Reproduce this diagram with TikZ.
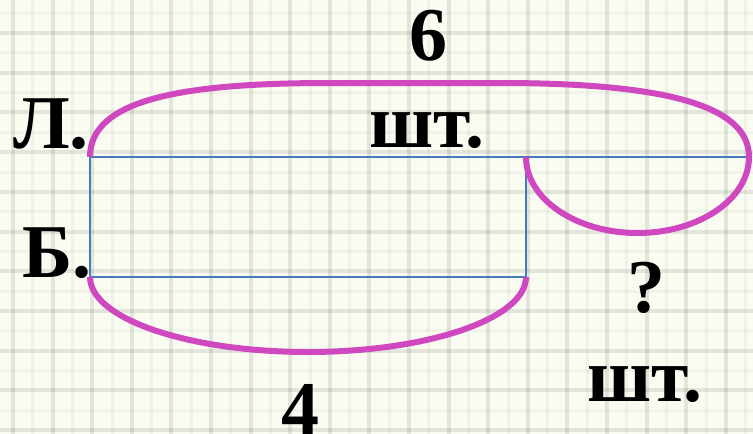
\documentclass[tikz,border=0pt]{standalone}
\usepackage{fontspec}
\setmainfont{Liberation Serif}
\definecolor{paper}{RGB}{250,252,242}
\definecolor{gridc}{RGB}{120,125,110}
\definecolor{mag}{RGB}{208,72,192}
\definecolor{rectblue}{RGB}{70,124,190}
\begin{document}
\begin{tikzpicture}[x=1pt,y=-1pt,
  lbl/.style={font=\fontsize{76}{80}\selectfont\bfseries, anchor=base, inner sep=0pt},
  bar/.style={draw=rectblue, line width=2pt},
  arcline/.style={draw=mag, line width=6pt}]
\useasboundingbox (0,0) rectangle (753,434);
\fill[paper] (0,0) rectangle (753,434);
\begin{scope}
\clip (0,0) rectangle (753,434);
% minor grid
\foreach \i in {0,...,19} {
  \draw[gridc, line width=3pt, opacity=0.07] ({-6.8+39.6*\i},0) -- ({-6.8+39.6*\i},434);
}
\foreach \j in {0,...,11} {
  \draw[gridc, line width=3pt, opacity=0.07] (0,{13.2+39.7*\j}) -- (753,{13.2+39.7*\j});
}
% major grid
\foreach \i in {0,...,19} {
  \draw[gridc, line width=4pt, opacity=0.18] ({13+39.6*\i},0) -- ({13+39.6*\i},434);
}
\foreach \j in {0,...,11} {
  \draw[gridc, line width=4pt, opacity=0.18] (0,{33+39.7*\j}) -- (753,{33+39.7*\j});
}
\end{scope}
% coordinates
\coordinate (tl) at (90,157);
\coordinate (tr) at (749,157);
\coordinate (tm) at (526,157);
\coordinate (bl) at (90,277);
\coordinate (br) at (526,277);
% rectangle / lines
\draw[bar] (tl) -- (tr);
\draw[bar] (tl) -- (bl) -- (br) -- (tm);
% top brace arc
\draw[arcline] (tl) .. controls (90,100) and (180,83) .. (330,83) -- (500,83)
  .. controls (680,83) and (749,110) .. (tr);
% small loop
\draw[arcline] (tr) arc[start angle=0, end angle=-180, x radius=111.5, y radius=-76];
% bottom arc
\draw[arcline] (bl) arc[start angle=180, end angle=360, x radius=218, y radius=-75];
% labels
\node[lbl] (L) at (51,148) {Л.};
\node[lbl] (B) at (57,277) {Б.};
\node[lbl] (six) at (428,60) {6};
\node[lbl] (sht1) at (427,147) {шт.};
\node[lbl] (q) at (646,312) {?};
\node[lbl] (sht2) at (645,401) {шт.};
\node[lbl] (four) at (300,434) {4};
\end{tikzpicture}
\end{document}
